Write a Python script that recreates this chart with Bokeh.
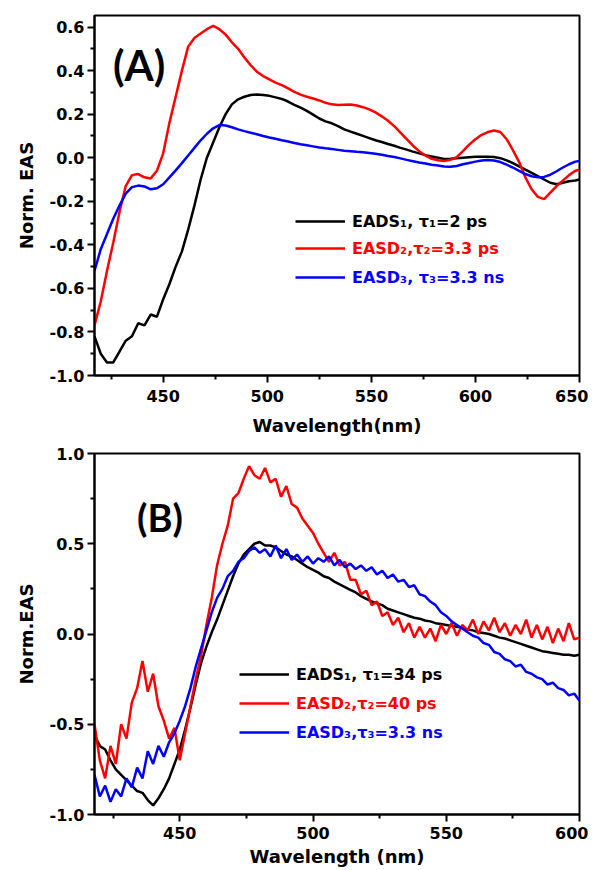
from bokeh.plotting import figure
from bokeh.models import FixedTicker, Label, Legend, LegendItem, Range1d
from bokeh.layouts import column
from bokeh.embed import file_html
from bokeh.resources import INLINE

# ---------------- data: panel (A) ----------------
wl_a = list(range(417, 649, 3)) + [650]
eads1_a = [-0.82, -0.90, -0.94, -0.94, -0.89, -0.84, -0.82, -0.76, -0.77, -0.72,
           -0.73, -0.65, -0.58, -0.50, -0.43, -0.33, -0.22, -0.10, 0.00, 0.07,
           0.14, 0.20, 0.245, 0.268, 0.28, 0.288, 0.29, 0.288, 0.284, 0.277,
           0.27, 0.258, 0.243, 0.23, 0.215, 0.198, 0.18, 0.167, 0.158, 0.145,
           0.13, 0.12, 0.11, 0.10, 0.09, 0.08, 0.072, 0.063, 0.055, 0.045,
           0.037, 0.028, 0.02, 0.012, 0.006, 0.0, -0.006, -0.005, -0.002, 0.0,
           0.002, 0.004, 0.005, 0.005, 0.003, -0.002, -0.012, -0.025, -0.04, -0.055,
           -0.07, -0.085, -0.10, -0.115, -0.122, -0.115, -0.108, -0.105, -0.10]
easd2_a = [-0.77, -0.66, -0.52, -0.39, -0.25, -0.13, -0.08, -0.075, -0.09, -0.095,
           -0.06, 0.02, 0.16, 0.28, 0.40, 0.51, 0.55, 0.57, 0.59, 0.605,
           0.59, 0.565, 0.53, 0.50, 0.46, 0.425, 0.395, 0.375, 0.36, 0.345,
           0.333, 0.318, 0.302, 0.29, 0.28, 0.272, 0.263, 0.252, 0.245, 0.242,
           0.243, 0.244, 0.24, 0.232, 0.222, 0.208, 0.19, 0.17, 0.145, 0.115,
           0.085, 0.055, 0.03, 0.01, -0.005, -0.012, -0.015, -0.01, 0.003, 0.03,
           0.06, 0.085, 0.105, 0.118, 0.125, 0.118, 0.085, 0.035, -0.02, -0.09,
           -0.145, -0.18, -0.19, -0.16, -0.13, -0.105, -0.08, -0.06, -0.055]
easd3_a = [-0.52, -0.42, -0.35, -0.28, -0.22, -0.165, -0.135, -0.128, -0.132, -0.145,
           -0.14, -0.122, -0.09, -0.058, -0.025, 0.01, 0.045, 0.08, 0.11, 0.135,
           0.15, 0.148, 0.14, 0.13, 0.122, 0.115, 0.108, 0.10, 0.093, 0.087,
           0.08, 0.074, 0.068, 0.062, 0.057, 0.052, 0.047, 0.043, 0.04, 0.036,
           0.032, 0.03, 0.027, 0.025, 0.022, 0.018, 0.014, 0.008, 0.003, -0.003,
           -0.01, -0.016, -0.022, -0.027, -0.032, -0.036, -0.04, -0.042, -0.038, -0.03,
           -0.024, -0.018, -0.013, -0.011, -0.013, -0.02, -0.032, -0.045, -0.06, -0.075,
           -0.085, -0.09, -0.088, -0.078, -0.062, -0.045, -0.03, -0.018, -0.015]
labels_a = ["EADS\u2081, \u03c4\u2081=2 ps", "EASD\u2082,\u03c4\u2082=3.3 ps", "EASD\u2083, \u03c4\u2083=3.3 ns"]

# ---------------- data: panel (B) ----------------
wl_b = list(range(418, 601, 2))
eads1_b = [-0.56, -0.62, -0.64, -0.70, -0.75, -0.78, -0.81, -0.84, -0.87, -0.88,
           -0.92, -0.95, -0.91, -0.86, -0.80, -0.72, -0.64, -0.53, -0.41, -0.28,
           -0.16, -0.07, 0.01, 0.08, 0.16, 0.24, 0.32, 0.39, 0.44, 0.47,
           0.50, 0.51, 0.49, 0.49, 0.48, 0.46, 0.44, 0.43, 0.41, 0.39,
           0.37, 0.355, 0.34, 0.32, 0.31, 0.29, 0.275, 0.26, 0.245, 0.23,
           0.21, 0.195, 0.18, 0.17, 0.16, 0.14, 0.13, 0.12, 0.11, 0.10,
           0.09, 0.085, 0.075, 0.07, 0.06, 0.055, 0.05, 0.045, 0.04, 0.035,
           0.025, 0.02, 0.01, 0.005, 0.0, -0.01, -0.02, -0.025, -0.035, -0.045,
           -0.055, -0.065, -0.075, -0.085, -0.095, -0.10, -0.105, -0.11, -0.115, -0.115,
           -0.12, -0.115]
easd2_b = [-0.50, -0.70, -0.80, -0.62, -0.72, -0.50, -0.58, -0.38, -0.30, -0.15,
           -0.32, -0.22, -0.40, -0.48, -0.58, -0.52, -0.70, -0.55, -0.40, -0.25,
           -0.12, 0.05, 0.20, 0.38, 0.50, 0.60, 0.75, 0.78, 0.86, 0.93,
           0.88, 0.86, 0.92, 0.84, 0.86, 0.76, 0.82, 0.72, 0.70, 0.64,
           0.60, 0.56, 0.50, 0.45, 0.40, 0.45, 0.38, 0.40, 0.30, 0.30,
           0.22, 0.24, 0.16, 0.18, 0.10, 0.12, 0.05, 0.09, 0.01, 0.06,
           -0.02, 0.04, -0.02, 0.03, -0.04, 0.05, 0.0, 0.06, -0.01, 0.05,
           0.02, 0.08, 0.0, 0.07, 0.02, 0.09, 0.01, 0.06, -0.01, 0.05,
           0.0, 0.08, -0.02, 0.05, -0.03, 0.04, -0.05, 0.03, -0.04, 0.06,
           -0.03, -0.02]
easd3_b = [-0.78, -0.90, -0.84, -0.93, -0.86, -0.90, -0.80, -0.85, -0.74, -0.80,
           -0.65, -0.72, -0.62, -0.68, -0.60, -0.55, -0.48, -0.40, -0.30, -0.18,
           -0.08, 0.02, 0.12, 0.20, 0.25, 0.32, 0.35, 0.40, 0.42, 0.46,
           0.48, 0.45, 0.47, 0.43, 0.49, 0.42, 0.47, 0.41, 0.44, 0.40,
           0.43, 0.39, 0.42, 0.40, 0.43, 0.38, 0.41, 0.37, 0.39, 0.36,
           0.38, 0.35, 0.37, 0.33, 0.35, 0.31, 0.33, 0.29, 0.30, 0.26,
           0.27, 0.22, 0.21, 0.18, 0.16, 0.12, 0.10, 0.07, 0.05, 0.03,
           0.01, -0.01, -0.02, -0.05, -0.06, -0.10, -0.11, -0.14, -0.15, -0.18,
           -0.17, -0.21, -0.22, -0.24, -0.25, -0.28, -0.27, -0.30, -0.31, -0.34,
           -0.33, -0.37]
labels_b = ["EADS\u2081, \u03c4\u2081=34 ps", "EASD\u2082,\u03c4\u2082=40 ps", "EASD\u2083,\u03c4\u2083=3.3 ns"]

# ---------------- ticks ----------------
xt_a = [450, 500, 550, 600, 650]
xt_a_lab = ["450", "500", "550", "600", "650"]
xm_a = [425, 475, 525, 575, 625]
yt_a = [-1.0, -0.8, -0.6, -0.4, -0.2, 0.0, 0.2, 0.4, 0.6]
yt_a_lab = ["-1.0", "-0.8", "-0.6", "-0.4", "-0.2", "0.0", "0.2", "0.4", "0.6"]
ym_a = [-0.9, -0.7, -0.5, -0.3, -0.1, 0.1, 0.3, 0.5]

xt_b = [450, 500, 550, 600]
xt_b_lab = ["450", "500", "550", "600"]
xm_b = [425, 475, 525, 575]
yt_b = [-1.0, -0.5, 0.0, 0.5, 1.0]
yt_b_lab = ["-1.0", "-0.5", "0.0", "0.5", "1.0"]
ym_b = [-0.75, -0.25, 0.25, 0.75]

colors = ["#000000", "#ff0000", "#0000ff"]
FONT = "DejaVu Sans"


def style_axes(p, xt, xlab, xm, yt, ylab, ym, xlabel, ylabel):
    p.xgrid.visible = False
    p.ygrid.visible = False
    p.outline_line_color = "black"
    p.outline_line_width = 2
    p.outline_line_alpha = 1
    p.xaxis.ticker = FixedTicker(ticks=xt, minor_ticks=xm)
    p.yaxis.ticker = FixedTicker(ticks=yt, minor_ticks=ym)
    p.xaxis.major_label_overrides = dict(zip(xt, xlab))
    p.yaxis.major_label_overrides = dict(zip(yt, ylab))
    p.xaxis.axis_label = xlabel
    p.yaxis.axis_label = ylabel
    for ax in (p.xaxis, p.yaxis):
        ax.axis_line_width = 2
        ax.major_tick_line_width = 2
        ax.minor_tick_line_width = 2
        ax.major_tick_out = 7
        ax.major_tick_in = 0
        ax.minor_tick_out = 4
        ax.minor_tick_in = 0
        ax.major_label_text_font = FONT
        ax.major_label_text_font_style = "bold"
        ax.major_label_text_font_size = "16px"
        ax.major_label_text_color = "black"
        ax.axis_label_text_font = FONT
        ax.axis_label_text_font_style = "bold"
        ax.axis_label_text_font_size = "18px"
        ax.axis_label_text_color = "black"
    p.xaxis.major_label_standoff = 7
    p.yaxis.major_label_standoff = 3
    p.xaxis.axis_label_standoff = 10
    p.yaxis.axis_label_standoff = 10


def add_legends(p, renderers, labels, x0, ys):
    for r, lab, c, y in zip(renderers, labels, colors, ys):
        leg = Legend(items=[LegendItem(label=lab, renderers=[r])],
                     location=(x0, y), orientation="vertical",
                     glyph_width=50, glyph_height=20, label_height=20,
                     label_standoff=7, padding=0, margin=0, spacing=0,
                     border_line_color=None, background_fill_alpha=0,
                     label_text_font=FONT, label_text_font_style="bold",
                     label_text_font_size="16px", label_text_color=c)
        p.add_layout(leg)


# ---------------- panel (A) ----------------
pa = figure(width=588, height=438, output_backend="svg", toolbar_location=None,
            x_range=Range1d(417, 650), y_range=Range1d(-1.0, 0.653),
            min_border_left=92, min_border_right=8, min_border_top=15, min_border_bottom=61)
style_axes(pa, xt_a, xt_a_lab, xm_a, yt_a, yt_a_lab, ym_a, "Wavelength(nm)", "Norm. EAS")
ra = [pa.line(wl_a, ys, line_color=c, line_width=2.5)
      for ys, c in zip([eads1_a, easd2_a, easd3_a], colors)]
add_legends(pa, ra, labels_a, 201, [144, 117, 88])
pa.add_layout(Label(x=438.4, y=0.426, text="(A)", text_font="Lato", text_font_style="bold",
                    text_font_size="42px", text_align="center", text_baseline="middle",
                    text_color="black"))

# ---------------- panel (B) ----------------
pb = figure(width=588, height=432, output_backend="svg", toolbar_location=None,
            x_range=Range1d(418, 600), y_range=Range1d(-1.0, 1.0),
            min_border_left=94, min_border_right=9, min_border_top=15, min_border_bottom=56)
style_axes(pb, xt_b, xt_b_lab, xm_b, yt_b, yt_b_lab, ym_b, "Wavelength (nm)", "Norm.EAS")
pb.xaxis.major_label_standoff = 5
pb.xaxis.axis_label_standoff = 4
rb = [pb.line(wl_b, ys, line_color=c, line_width=2.5)
      for ys, c in zip([eads1_b, easd2_b, easd3_b], colors)]
add_legends(pb, rb, labels_b, 145, [130, 101, 72])
pb.add_layout(Label(x=442.6, y=0.646, text="(B)", text_font="Lato", text_font_style="bold",
                    text_font_size="38px", text_align="center", text_baseline="middle",
                    text_color="black"))

layout = column(pa, pb, spacing=0)
open("out.html", "w").write(file_html(layout, INLINE))
